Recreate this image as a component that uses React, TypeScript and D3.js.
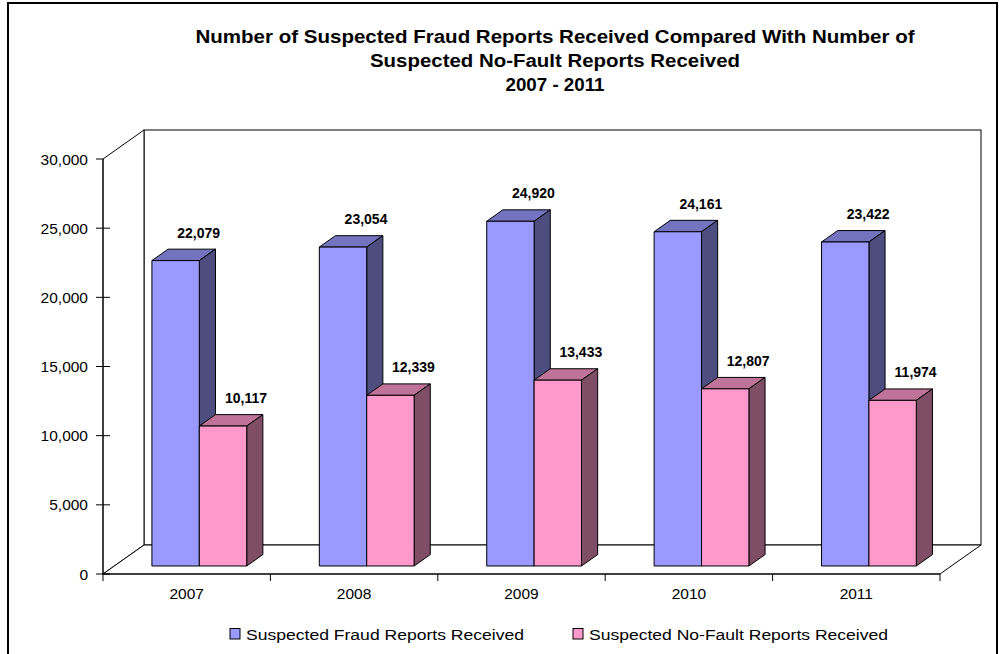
import React from 'react'
import * as d3 from 'd3'

const years = ['2007', '2008', '2009', '2010', '2011']
const fraud = [22079, 23054, 24920, 24161, 23422]
const noFault = [10117, 12339, 13433, 12807, 11974]
const seriesNames = ['Suspected Fraud Reports Received', 'Suspected No-Fault Reports Received']
const yTicks = [0, 5000, 10000, 15000, 20000, 25000, 30000]

const W = 999
const H = 654
const FONT = "Arial, 'Liberation Sans', sans-serif"

// plot box (front plane) and the 3D depth offset of the back wall
const left = 103
const right = 940
const bottom = 574
const top = 159
const depthX = 41
const depthY = -29
// bars sit between these depth fractions
const barFront = 0.276
const barBack = 0.67

const colors = [
  { front: '#9999FF', top: '#7373BF', side: '#4D4D80' },
  { front: '#FF99CC', top: '#BF7399', side: '#804D66' },
]

const pts = (arr: number[][]) => arr.map((p) => p.join(',')).join(' ')

export default function App() {
  const x = d3.scaleBand().domain(years).range([left, right])
  const inner = d3.scaleBand().domain(['0', '1'])
    .range([1.3, x.bandwidth() + 1.3]).paddingInner(0).paddingOuter(0.766)
  const y = d3.scaleLinear().domain([0, 30000]).range([bottom, top])
  const fmt = d3.format(',')

  const fx = barFront * depthX
  const fy = barFront * depthY
  const bx = barBack * depthX
  const by = barBack * depthY

  const series = [fraud, noFault]

  const bars: React.ReactNode[] = []
  years.forEach((yr, i) => {
    series.forEach((vals, s) => {
      const v = vals[i]
      const x0 = (x(yr) as number) + (inner(String(s)) as number) + fx
      const x1 = x0 + inner.bandwidth()
      const y0 = y(0) + fy
      const y1 = y(v) + fy
      const c = colors[s]
      const dx = bx - fx
      const dy = by - fy
      bars.push(
        <g key={yr + s} stroke="#000" strokeWidth={1} strokeLinejoin="round">
          <polygon points={pts([[x0, y1], [x1, y1], [x1 + dx, y1 + dy], [x0 + dx, y1 + dy]])} fill={c.top} />
          <polygon points={pts([[x1, y1], [x1 + dx, y1 + dy], [x1 + dx, y0 + dy], [x1, y0]])} fill={c.side} />
          <rect x={x0} y={y1} width={x1 - x0} height={y0 - y1} fill={c.front} />
          <text x={(x0 + x1) / 2 + 23} y={y1 - 23} textAnchor="middle" fontFamily={FONT}
            fontSize={14} fontWeight="bold" stroke="none" fill="#000">{fmt(v)}</text>
        </g>
      )
    })
  })

  return (
    <svg width={W} height={H} style={{ position: 'absolute', left: 0, top: 0 }}>
      <rect x={0} y={0} width={W} height={H} fill="#fff" />
      <rect x={8} y={3} width={989} height={700} fill="none" stroke="#000" strokeWidth={2} />

      <g fontFamily={FONT} fontWeight="bold" fontSize={18} textAnchor="middle">
        <text x={555} y={43} textLength={719} lengthAdjust="spacingAndGlyphs">Number of Suspected Fraud Reports Received Compared With Number of</text>
        <text x={555} y={67} textLength={370} lengthAdjust="spacingAndGlyphs">Suspected No-Fault Reports Received</text>
        <text x={555} y={91} textLength={99} lengthAdjust="spacingAndGlyphs">2007 - 2011</text>
      </g>

      {/* walls and floor */}
      <g stroke="#000" strokeWidth={1} fill="#fff">
        <rect x={left + depthX} y={top + depthY} width={right - left} height={bottom - top} />
        <polygon points={pts([[left, top], [left + depthX, top + depthY], [left + depthX, bottom + depthY], [left, bottom]])} />
        <polygon points={pts([[left, bottom], [right, bottom], [right + depthX, bottom + depthY], [left + depthX, bottom + depthY]])} />
      </g>

      {bars}

      {/* axes */}
      <g stroke="#000" strokeWidth={1}>
        <line x1={left} x2={left} y1={top} y2={bottom + 7} />
        <line x1={left} x2={right} y1={bottom} y2={bottom} />
        {yTicks.map((t) => (
          <line key={t} x1={left - 7} x2={t === 30000 ? left : left + 7} y1={y(t)} y2={y(t)} />
        ))}
        {years.map((yr) => (
          <line key={yr} x1={(x(yr) as number) + x.bandwidth()} x2={(x(yr) as number) + x.bandwidth()} y1={bottom} y2={bottom + 7} />
        ))}
      </g>
      <g fontFamily={FONT} fontSize={15.5}>
        {yTicks.map((t) => (
          <text key={t} x={88} y={y(t) + 5.5} textAnchor="end">{fmt(t)}</text>
        ))}
        {years.map((yr) => (
          <text key={yr} x={(x(yr) as number) + x.bandwidth() / 2} y={599} textAnchor="middle">{yr}</text>
        ))}
      </g>

      {/* legend */}
      <g fontFamily={FONT} fontSize={15.5}>
        {seriesNames.map((n, s) => {
          const lx = s === 0 ? 230 : 573
          return (
            <g key={n}>
              <rect x={lx} y={628.5} width={10} height={10.5} fill={colors[s].front} stroke="#000" strokeWidth={1} />
              <text x={lx + 16} y={640} textLength={s === 0 ? 278 : 299} lengthAdjust="spacingAndGlyphs">{n}</text>
            </g>
          )
        })}
      </g>
    </svg>
  )
}
